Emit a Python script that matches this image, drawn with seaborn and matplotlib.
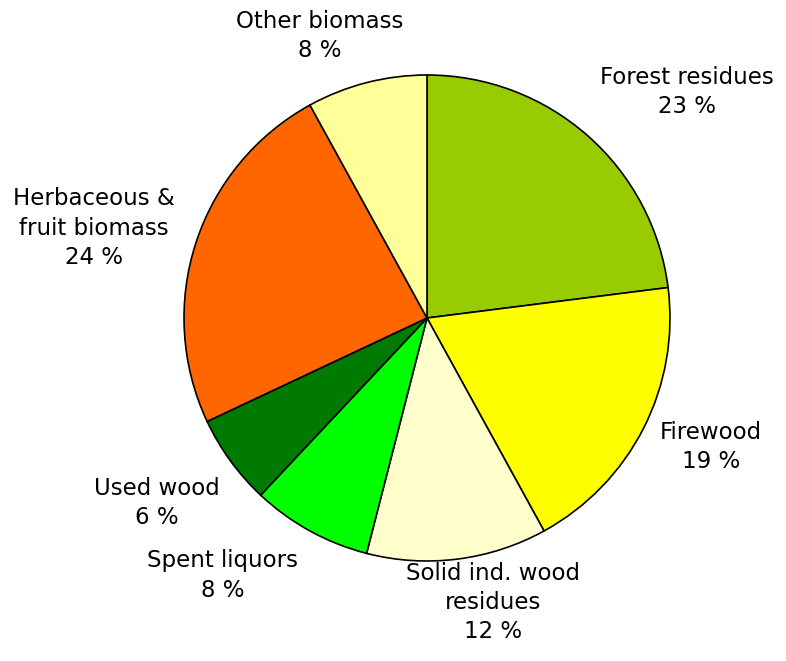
import numpy as np
import matplotlib
matplotlib.use("Agg")
import matplotlib.pyplot as plt
import seaborn as sns

categories = ["Forest residues", "Firewood", "Solid ind. wood\nresidues", "Spent liquors",
              "Used wood", "Herbaceous &\nfruit biomass", "Other biomass"]
shares = [23, 19, 12, 8, 6, 24, 8]
colors = ["#99CC00", "#FFFF00", "#FFFFCC", "#00FF00", "#007A00", "#FF6600", "#FFFF99"]

# label centres in units of pie radius (layout only)
label_pos = [(1.07, 0.93), (1.17, -0.53), (0.27, -1.17), (-0.84, -1.06),
             (-1.11, -0.76), (-1.37, 0.37), (-0.44, 1.16)]

sns.set_style("white")
plt.rcParams['font.family'] = ['DejaVu Sans']

fig = plt.figure(figsize=(7.86, 6.61), dpi=100)
ax = fig.add_axes([0, 0, 1, 1])
ax.pie(shares, colors=colors, startangle=90, counterclock=False,
       wedgeprops=dict(edgecolor="black", linewidth=1.2))

for name, val, (x, y) in zip(categories, shares, label_pos):
    ax.text(x, y, f"{name}\n{val} %", ha="center", va="center",
            fontsize=16.5, linespacing=1.35, color="black")

ax.set_aspect("auto")
ax.set_xlim(-427 / 243, (786 - 427) / 243)
ax.set_ylim(-(661 - 318) / 243, 318 / 243)
ax.axis("off")

fig.savefig("out.png", dpi=100, facecolor="white")
